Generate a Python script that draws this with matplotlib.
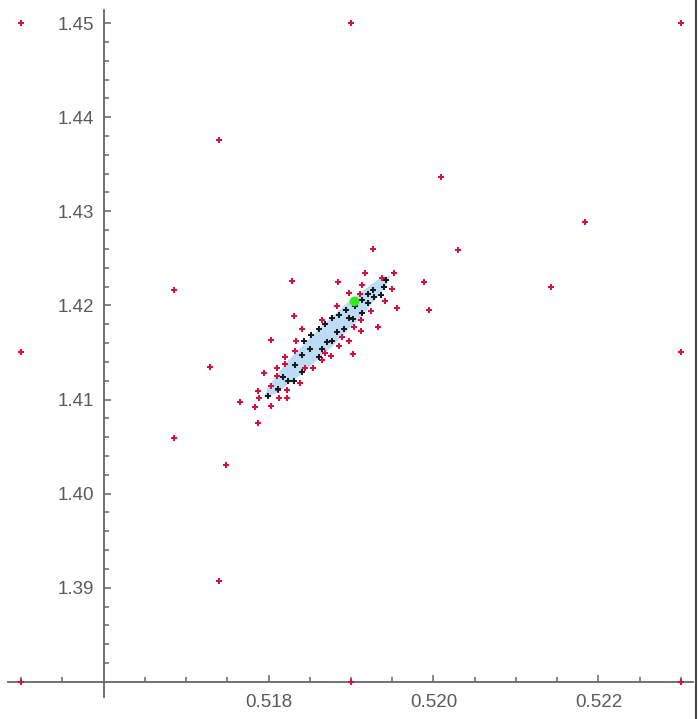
import numpy as np
import matplotlib.pyplot as plt
from matplotlib.ticker import FixedLocator, FormatStrFormatter
from matplotlib.lines import Line2D

# corner / edge points of the starting grid
grid_x = [0.515, 0.519, 0.523, 0.515, 0.523, 0.515, 0.519, 0.523]
grid_y = [1.450, 1.450, 1.450, 1.415, 1.415, 1.380, 1.380, 1.380]

# scattered red points outside the cluster
outer_x = [0.51740, 0.51829, 0.51685, 0.51831, 0.51685, 0.51748, 0.51740,
           0.52009, 0.52184, 0.52030, 0.52143, 0.51989, 0.51995, 0.51729,
           0.51765]
outer_y = [1.43755, 1.42263, 1.42160, 1.41886, 1.40596, 1.40309, 1.39067,
           1.43365, 1.42890, 1.42585, 1.42195, 1.42245, 1.41954, 1.41351,
           1.40971]

# red points around the ellipse
near_x = [0.51927, 0.51917, 0.51952, 0.51937, 0.51884, 0.51913, 0.51950,
          0.51897, 0.51911, 0.51941, 0.51956, 0.51883, 0.51924, 0.51865,
          0.51912, 0.51904, 0.51933, 0.51841, 0.51912, 0.51889, 0.51803,
          0.51833, 0.51898, 0.51885, 0.51832, 0.51869, 0.51902, 0.51876,
          0.51820, 0.51865, 0.51820, 0.51810, 0.51844, 0.51854, 0.51795,
          0.51810, 0.51838, 0.51803, 0.51787, 0.51812, 0.51822, 0.51788,
          0.51813, 0.51822, 0.51783, 0.51803, 0.51787]
near_y = [1.42603, 1.42348, 1.42348, 1.42294, 1.42245, 1.42213, 1.42177,
          1.42131, 1.42124, 1.42043, 1.41972, 1.41993, 1.41940, 1.41840,
          1.41840, 1.41769, 1.41769, 1.41748, 1.41723, 1.41667, 1.41635,
          1.41617, 1.41617, 1.41564, 1.41514, 1.41496, 1.41479, 1.41461,
          1.41447, 1.41415, 1.41376, 1.41330, 1.41330, 1.41330, 1.41277,
          1.41245, 1.41174, 1.41142, 1.41089, 1.41106, 1.41106, 1.41018,
          1.41018, 1.41018, 1.40918, 1.40936, 1.40748]

# black points inside the ellipse
in_x = [0.51942, 0.51940, 0.51936, 0.51927, 0.51920, 0.51928, 0.51913,
        0.51920, 0.51905, 0.51913, 0.51894, 0.51886, 0.51903, 0.51877,
        0.51898, 0.51869, 0.51892, 0.51883, 0.51861, 0.51851, 0.51877,
        0.51871, 0.51843, 0.51865, 0.51850, 0.51861, 0.51841, 0.51832,
        0.51840, 0.51818, 0.51824, 0.51831, 0.51812, 0.51799]
in_y = [1.42273, 1.42195, 1.42106, 1.42160, 1.42117, 1.42089, 1.42053,
        1.42028, 1.41993, 1.41922, 1.41947, 1.41901, 1.41858, 1.41865,
        1.41869, 1.41805, 1.41745, 1.41716, 1.41748, 1.41681, 1.41621,
        1.41610, 1.41617, 1.41539, 1.41532, 1.41450, 1.41468, 1.41362,
        1.41291, 1.41238, 1.41195, 1.41195, 1.41114, 1.41035]

# best point
best_x = [0.51904]
best_y = [1.42043]

# outline of the shaded ellipse
ell_x = [0.51948, 0.51942, 0.51917, 0.51880, 0.51840, 0.51809,
         0.51794, 0.51800, 0.51824, 0.51861, 0.51901, 0.51933]
ell_y = [1.42323, 1.42195, 1.41925, 1.41586, 1.41271, 1.41063,
         1.41017, 1.41146, 1.41416, 1.41754, 1.42069, 1.42278]

xmajor = [0.518, 0.520, 0.522]
ymajor = [1.39, 1.40, 1.41, 1.42, 1.43, 1.44, 1.45]

fig = plt.figure(figsize=(6.98, 7.19), dpi=100)
ax = fig.add_axes([0, 0, 1, 1])
ax.set_xlim(0.514744, 0.523207)
ax.set_ylim(1.37606, 1.45245)

ax.fill(ell_x, ell_y, color="#bcdcf6", lw=0, zorder=1)

red = "#d81040"
ax.plot(grid_x, grid_y, "P", color=red, ms=4, mew=0, zorder=3)
ax.plot(outer_x, outer_y, "P", color=red, ms=4, mew=0, zorder=3)
ax.plot(near_x, near_y, "P", color=red, ms=4, mew=0, zorder=3)
ax.plot(in_x, in_y, "P", color="#1a1a1a", ms=4, mew=0, zorder=4)
ax.plot(best_x, best_y, "o", color="#33e81c", ms=7, mew=0, zorder=5)

for s in ["top", "right"]:
    ax.spines[s].set_visible(False)
ax.spines["bottom"].set_position(("data", 1.38))
ax.spines["left"].set_position(("data", 0.516))
ax.spines["bottom"].set_bounds(0.51484, 0.52315)
ax.spines["left"].set_bounds(1.3784, 1.4514)
for s in ["bottom", "left"]:
    ax.spines[s].set_color("#666666")
    ax.spines[s].set_linewidth(1.3)

ax.xaxis.set_major_locator(FixedLocator(xmajor))
ax.yaxis.set_major_locator(FixedLocator(ymajor))
xminor = [v for v in np.arange(0.515, 0.52301, 0.0005) if min(abs(v - m) for m in xmajor) > 1e-6 and abs(v - 0.516) > 1e-6]
yminor = [v for v in np.arange(1.382, 1.4501, 0.002) if min(abs(v - m) for m in ymajor) > 1e-6]
ax.xaxis.set_minor_locator(FixedLocator(xminor))
ax.yaxis.set_minor_locator(FixedLocator(yminor))
ax.xaxis.set_major_formatter(FormatStrFormatter("%.3f"))
ax.yaxis.set_major_formatter(FormatStrFormatter("%.2f"))

ax.tick_params(which="both", direction="in", color="#666666", width=1.1)
ax.tick_params(which="major", length=5)
ax.tick_params(which="minor", length=3.5)
ax.tick_params(axis="x", which="major", pad=9, labelsize=13.5, labelcolor="#5a5a5a")
ax.tick_params(axis="y", which="major", pad=7, labelsize=13.5, labelcolor="#5a5a5a")
for lab in ax.get_xticklabels() + ax.get_yticklabels():
    lab.set_family("Liberation Sans")

# right border of the frame
fig.add_artist(Line2D([0.9965, 0.9965], [0.0, 1.0], color="#444444", lw=1.5,
                      transform=fig.transFigure))

fig.savefig("out.png", dpi=100)
